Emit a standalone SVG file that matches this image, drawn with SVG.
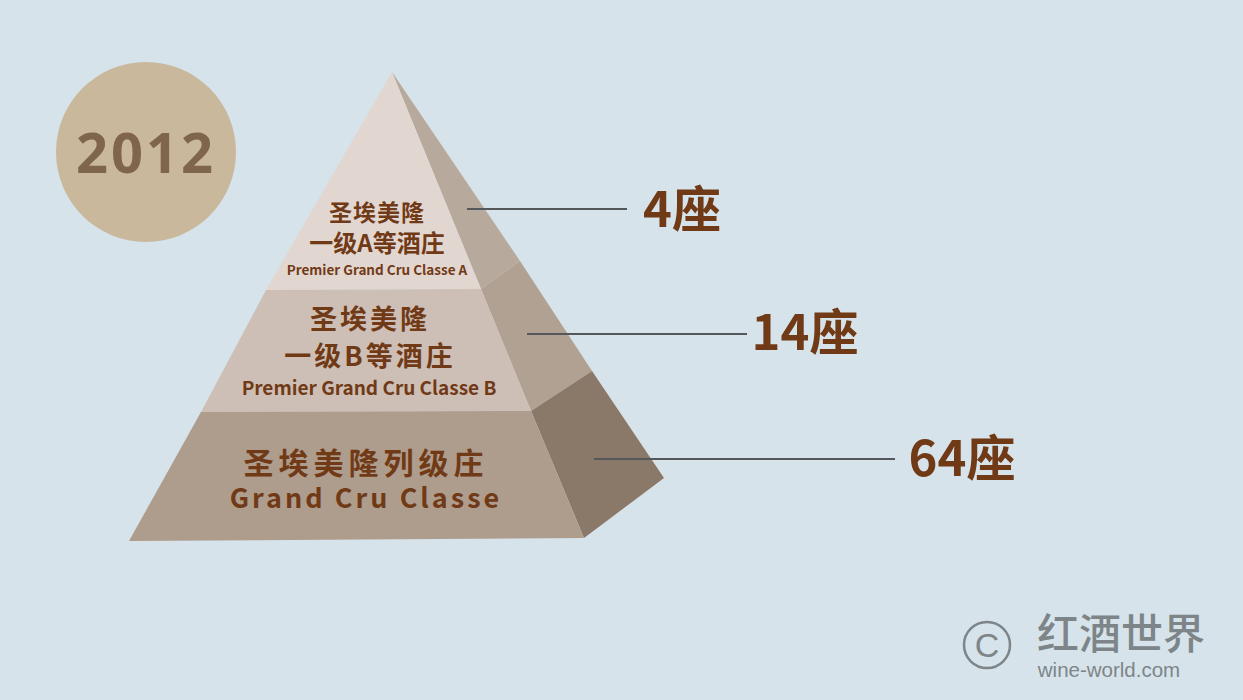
<svg xmlns="http://www.w3.org/2000/svg" width="1243" height="700" viewBox="0 0 1243 700">
<style>
text{font-family:"Noto Sans CJK SC","Noto Sans",sans-serif;font-weight:700;fill:#713a16;text-anchor:middle}
.lead{stroke:#55585a;stroke-width:2;fill:none}
.count{font-size:49px}
</style>
<rect width="1243" height="700" fill="#d6e3ea"/>
<g id="year"><circle cx="146" cy="152" r="90" fill="#c9b89b"/>
<text x="146" y="173" font-size="56" letter-spacing="3" style="font-family:'Open Sans','Noto Sans',sans-serif;fill:#7f644e">2012</text></g>
<g id="tier-a">
<polygon points="392,72 520,261 481,289" fill="#b8a99d"/>
<polygon points="392,72 481,289 266,290" fill="#e2d6d1"/>
<text x="377" y="221" font-size="23" letter-spacing="1">圣埃美隆</text>
<text x="377" y="252" font-size="24">一级A等酒庄</text>
<text x="377" y="275" font-size="13.5">Premier Grand Cru Classe A</text>
</g>
<g id="tier-b">
<polygon points="481,289 520,261 592,371 531,411" fill="#b0a193"/>
<polygon points="266,290 481,289 531,411 201,412" fill="#cdbfb6"/>
<text x="370" y="329" font-size="27" letter-spacing="3">圣埃美隆</text>
<text x="370" y="366" font-size="27" letter-spacing="3">一级B等酒庄</text>
<text x="369" y="395" font-size="19">Premier Grand Cru Classe B</text>
</g>
<g id="tier-c">
<polygon points="531,411 592,371 664,478 584,538" fill="#8a7868"/>
<polygon points="201,412 531,411 584,538 129,541" fill="#ae9c8d"/>
<text x="366" y="474" font-size="30" letter-spacing="5">圣埃美隆列级庄</text>
<text x="366" y="508" font-size="27" letter-spacing="3">Grand Cru Classe</text>
</g>
<g id="connectors">
<line class="lead" x1="467" y1="209" x2="627" y2="209"/>
<line class="lead" x1="527" y1="334" x2="747" y2="334"/>
<line class="lead" x1="594" y1="459" x2="895" y2="459"/>
</g>
<g id="count-a"><text class="count" x="682" y="227">4座</text></g>
<g id="count-b"><text class="count" x="805" y="350">14座</text></g>
<g id="count-c"><text class="count" x="962" y="476">64座</text></g>
<g id="logo">
<circle cx="987" cy="645" r="23" fill="none" stroke="#7d8589" stroke-width="2.5"/>
<text x="987" y="657" font-size="34" style="font-family:'Liberation Sans',sans-serif;font-weight:400;fill:#7d8589">C</text>
<text x="1121" y="649" font-size="42" textLength="168" lengthAdjust="spacingAndGlyphs" style="fill:#7d8589;font-weight:500">红酒世界</text>
<text x="1109" y="677" font-size="20.5" style="font-family:'Liberation Sans',sans-serif;font-weight:400;fill:#7d8589">wine-world.com</text>
</g>
</svg>
